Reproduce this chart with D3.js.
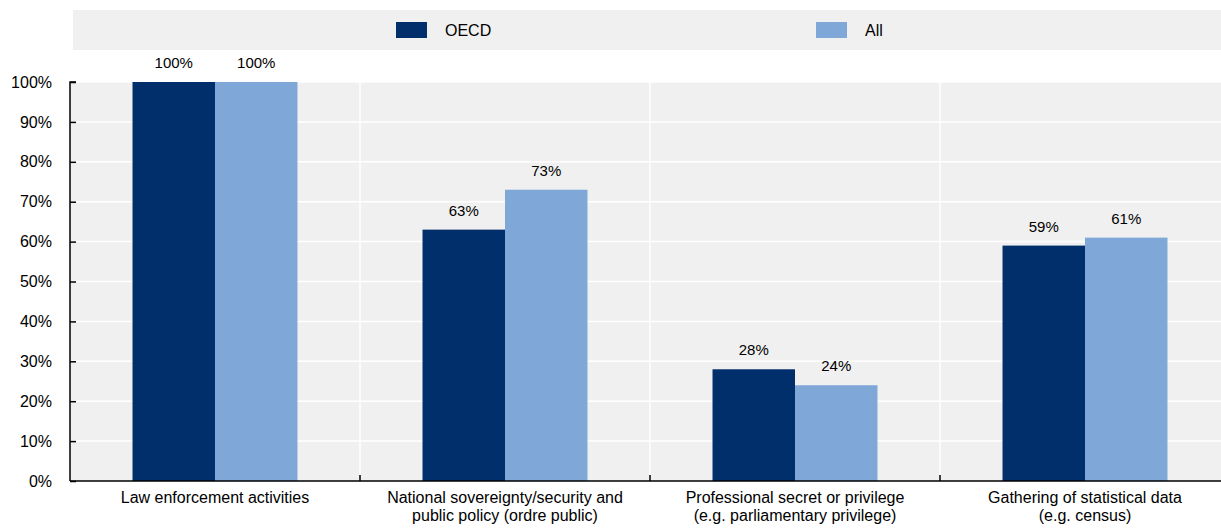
<!DOCTYPE html>
<html>
<head>
<meta charset="utf-8">
<script src="https://cdn.jsdelivr.net/npm/d3@7"></script>
<style>
  html, body { margin: 0; padding: 0; background: #fff; }
  svg { display: block; font-family: "Liberation Sans", Arial, sans-serif; }
</style>
</head>
<body>
<svg id="chart" width="1221" height="531"></svg>
<script>
// Categories (each label split into its display lines)
const categories = [
  ["Law enforcement activities"],
  ["National sovereignty/security and", "public policy (ordre public)"],
  ["Professional secret or privilege", "(e.g. parliamentary privilege)"],
  ["Gathering of statistical data", "(e.g. census)"]
];
const seriesNames = ["OECD", "All"];
const oecdValues = [100, 63, 28, 59];
const allValues = [100, 73, 24, 61];
const yTicks = [0, 10, 20, 30, 40, 50, 60, 70, 80, 90, 100];

const colors = { OECD: "#002f6c", All: "#7fa8d9" };
const seriesValues = { OECD: oecdValues, All: allValues };

const svg = d3.select("#chart");
const W = 1221, H = 531;
const plot = { left: 70, right: 1230, top: 82, bottom: 481 };
const bg = "#f0f0f0";

const catKeys = categories.map((d, i) => i);
const x = d3.scaleBand().domain(catKeys).range([plot.left, plot.right]).padding(0);
const xs = d3.scaleBand().domain(seriesNames).range([0, x.bandwidth()])
  .paddingInner(0).paddingOuter(0.758);
const y = d3.scaleLinear().domain([0, 100]).range([plot.bottom, plot.top]);

// Legend strip
const legend = svg.append("g");
legend.append("rect").attr("x", 73).attr("y", 10).attr("width", W - 73).attr("height", 40).attr("fill", bg);
const legendX = d3.scaleOrdinal().domain(seriesNames).range([396, 816]);
seriesNames.forEach(s => {
  legend.append("rect").attr("x", legendX(s)).attr("y", 22).attr("width", 31).attr("height", 16)
    .attr("fill", colors[s]);
  legend.append("text").attr("x", legendX(s) + 49).attr("y", 30).attr("dy", "0.36em")
    .attr("font-size", 16).attr("fill", "#000").text(s);
});

// Plot background
svg.append("rect").attr("x", plot.left).attr("y", plot.top)
  .attr("width", plot.right - plot.left).attr("height", plot.bottom - plot.top).attr("fill", bg);

// Horizontal gridlines
svg.append("g").selectAll("line").data(yTicks.filter(t => t > 0)).join("line")
  .attr("x1", plot.left).attr("x2", plot.right)
  .attr("y1", d => y(d)).attr("y2", d => y(d))
  .attr("stroke", "#fff").attr("stroke-width", 1.5);

// Vertical separators between categories
const seps = catKeys.slice(1).map(k => x(k));
svg.append("g").selectAll("line").data(seps).join("line")
  .attr("x1", d => d).attr("x2", d => d)
  .attr("y1", plot.top).attr("y2", plot.bottom)
  .attr("stroke", "#fff").attr("stroke-width", 1.5);

// Bars
const groups = svg.append("g").selectAll("g").data(catKeys).join("g")
  .attr("transform", k => `translate(${x(k)},0)`);
groups.selectAll("rect").data(k => seriesNames.map(s => ({ s, v: seriesValues[s][k] }))).join("rect")
  .attr("x", d => xs(d.s)).attr("width", xs.bandwidth())
  .attr("y", d => y(d.v)).attr("height", d => y(0) - y(d.v))
  .attr("fill", d => colors[d.s]);

// Value labels
groups.selectAll("text").data(k => seriesNames.map(s => ({ s, v: seriesValues[s][k] }))).join("text")
  .attr("x", d => xs(d.s) + xs.bandwidth() / 2).attr("y", d => y(d.v) - 14)
  .attr("text-anchor", "middle").attr("font-size", 15).attr("fill", "#000")
  .text(d => d + "" === "" ? "" : d.v + "%");

// Y axis: ticks point into the plot
const yAxis = svg.append("g").attr("transform", `translate(${plot.left},0)`)
  .call(d3.axisRight(y).tickValues(yTicks).tickSize(6).tickFormat(d => d + "%"));
yAxis.select(".domain").attr("d", `M6,${plot.top}H0V${plot.bottom}`).attr("stroke", "#000").attr("stroke-width", 1.5);
yAxis.selectAll(".tick line").attr("stroke", "#000").attr("stroke-width", 1.5);
yAxis.selectAll(".tick text").attr("x", -18).attr("text-anchor", "end")
  .attr("font-size", 16).attr("fill", "#000").attr("font-family", null);

// X axis baseline with small upward ticks at the separators
const xAxis = svg.append("g");
xAxis.append("line").attr("x1", plot.left).attr("x2", W).attr("y1", plot.bottom).attr("y2", plot.bottom)
  .attr("stroke", "#000").attr("stroke-width", 1.5);
xAxis.selectAll(".sep").data(seps).join("line").attr("class", "sep")
  .attr("x1", d => d).attr("x2", d => d).attr("y1", plot.bottom).attr("y2", plot.bottom - 6)
  .attr("stroke", "#000").attr("stroke-width", 1.5);

// Category labels
const catText = xAxis.selectAll(".cat").data(catKeys).join("text").attr("class", "cat")
  .attr("text-anchor", "middle").attr("font-size", 16).attr("fill", "#000")
  .attr("transform", k => `translate(${x(k) + x.bandwidth() / 2},${plot.bottom + 22})`);
catText.selectAll("tspan").data(k => categories[k]).join("tspan")
  .attr("x", 0).attr("dy", (d, i) => i === 0 ? 0 : 18).text(d => d);
</script>
</body>
</html>
